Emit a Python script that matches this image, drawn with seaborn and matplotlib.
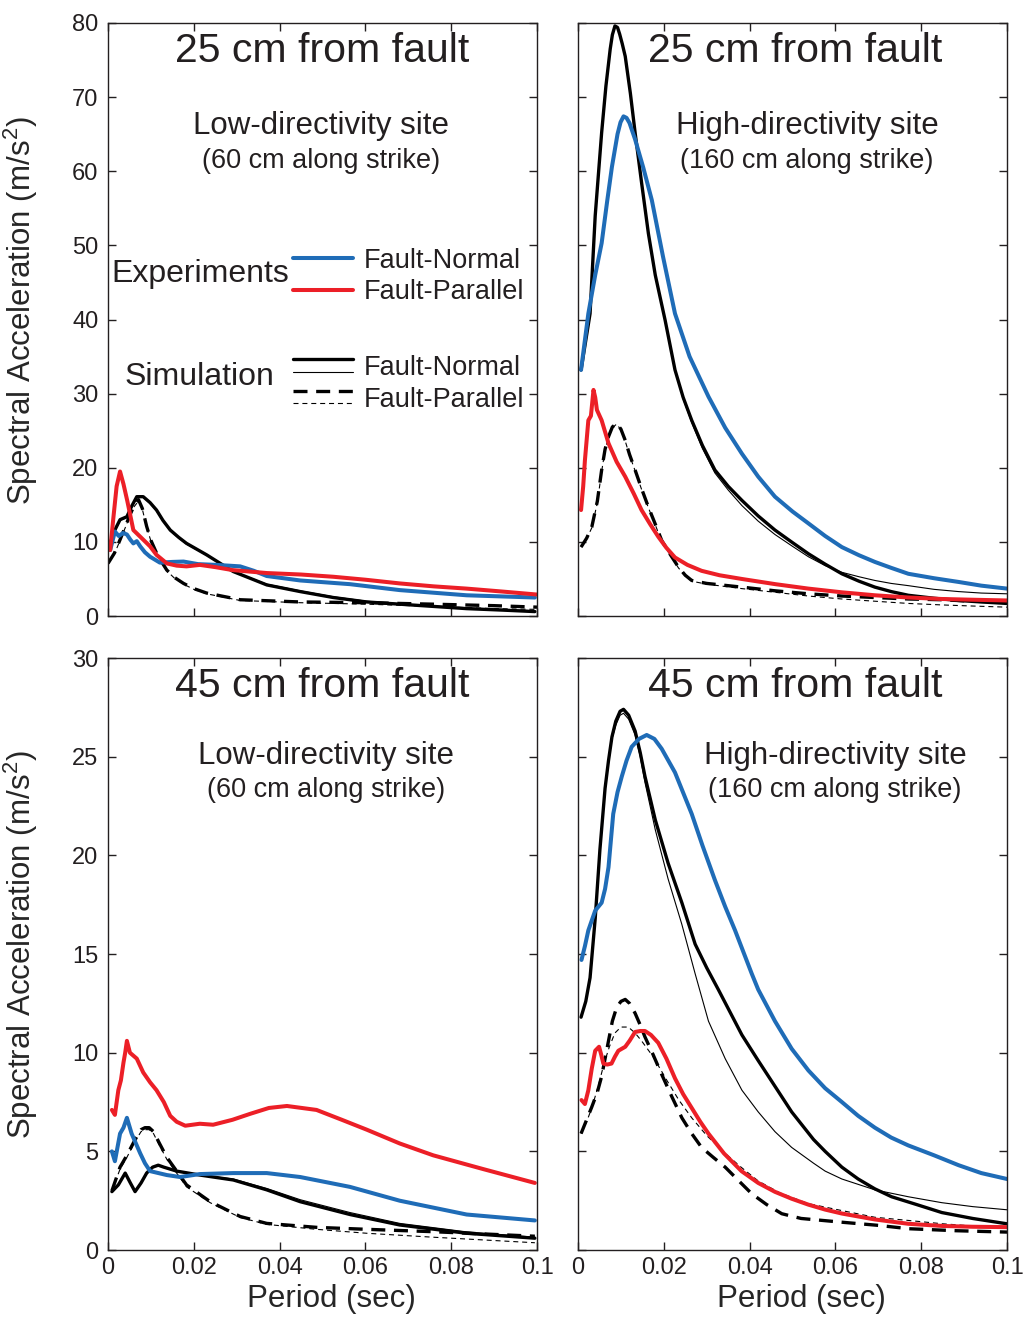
import matplotlib
matplotlib.use("Agg")
import matplotlib.pyplot as plt
import seaborn as sns
from matplotlib.lines import Line2D
from matplotlib.legend_handler import HandlerBase
from matplotlib.ticker import FuncFormatter, MultipleLocator

# ---------------- data (period in s, spectral acceleration in m/s^2) ----------------
# 25 cm from fault, low-directivity site
L25_EXP_FN_X = [0.0005, 0.0016, 0.0025, 0.0035, 0.0044, 0.0052, 0.0059, 0.0067, 0.0075, 0.0086, 0.0098,
                0.0121, 0.015, 0.0176, 0.021, 0.0253, 0.0308, 0.034, 0.037, 0.0448, 0.0564, 0.068, 0.0836, 0.0995]
L25_EXP_FN_Y = [8.9, 11.4, 10.8, 11.2, 11.0, 10.3, 9.8, 10.1, 9.4, 8.6, 8.0,
                7.2, 7.3, 7.35, 7.0, 6.9, 6.7, 6.1, 5.4, 4.8, 4.3, 3.5, 2.8, 2.5]
L25_EXP_FP_X = [0.0005, 0.0012, 0.002, 0.0028, 0.0036, 0.0045, 0.0059, 0.0075, 0.0098, 0.0113, 0.0137,
                0.016, 0.0183, 0.0214, 0.025, 0.029, 0.033, 0.037, 0.045, 0.0525, 0.06, 0.068, 0.076, 0.0836, 0.092, 0.1]
L25_EXP_FP_Y = [8.9, 13.0, 17.5, 19.5, 17.8, 15.5, 11.6, 10.7, 9.4, 8.25, 7.1,
                6.8, 6.7, 6.9, 6.6, 6.2, 6.0, 5.8, 5.6, 5.3, 4.9, 4.4, 4.0, 3.7, 3.3, 2.9]
L25_SIM_FN_X = [0.0, 0.0015, 0.0028, 0.0044, 0.0055, 0.0067, 0.0082, 0.0098, 0.0113, 0.0128, 0.0145,
                0.0165, 0.0183, 0.023, 0.0292, 0.037, 0.0448, 0.0525, 0.0603, 0.068, 0.0758, 0.0836, 0.092, 0.0995]
L25_SIM_FN_Y = [8.9, 11.5, 13.0, 13.4, 14.8, 16.1, 16.1, 15.3, 14.3, 12.9, 11.6,
                10.6, 9.8, 8.25, 6.0, 4.2, 3.3, 2.5, 1.9, 1.6, 1.3, 1.0, 0.8, 0.6]
L25_SIM_FN2_X = [0.0, 0.0015, 0.0028, 0.0044, 0.0055, 0.0067, 0.0082, 0.0098, 0.0113, 0.0128, 0.0145,
                 0.0165, 0.0183, 0.023, 0.0292, 0.037, 0.0448, 0.0525, 0.0603, 0.068, 0.0758, 0.0836, 0.092, 0.0995]
L25_SIM_FN2_Y = [8.9, 11.4, 12.9, 13.3, 14.7, 16.0, 16.0, 15.2, 14.2, 12.8, 11.5,
                 10.5, 9.7, 8.2, 6.0, 4.3, 3.4, 2.6, 2.0, 1.65, 1.35, 1.1, 0.9, 0.7]
L25_SIM_FP_X = [0.0, 0.0015, 0.0028, 0.004, 0.005, 0.006, 0.0071, 0.008, 0.009, 0.01, 0.0113, 0.0125,
                0.0137, 0.0155, 0.0176, 0.02, 0.023, 0.0308, 0.0448, 0.0603, 0.0758, 0.09, 0.1]
L25_SIM_FP_Y = [7.1, 8.5, 10.3, 12.0, 13.5, 14.8, 15.7, 14.5, 12.1, 10.2, 8.5, 7.3,
                6.2, 5.2, 4.4, 3.7, 3.1, 2.2, 1.9, 1.8, 1.6, 1.4, 1.2]
L25_SIM_FP2_X = [0.0, 0.0015, 0.0028, 0.004, 0.005, 0.006, 0.0071, 0.008, 0.009, 0.01, 0.0113, 0.0125,
                 0.0137, 0.0155, 0.0176, 0.02, 0.023, 0.0308, 0.0448, 0.0603, 0.0758, 0.09, 0.1]
L25_SIM_FP2_Y = [7.1, 8.4, 10.2, 11.9, 13.4, 14.7, 15.5, 14.4, 12.0, 10.1, 8.4, 7.2,
                 6.1, 5.1, 4.3, 3.6, 3.0, 2.1, 1.8, 1.6, 1.3, 1.0, 0.9]

# 25 cm from fault, high-directivity site
H25_EXP_FN_X = [0.0007, 0.0024, 0.004, 0.0055, 0.0068, 0.0079, 0.0092, 0.0099, 0.0106, 0.0113, 0.012,
                0.0133, 0.0152, 0.0172, 0.0198, 0.0226, 0.026, 0.0304, 0.0343, 0.0382, 0.042, 0.0459,
                0.05, 0.0537, 0.0576, 0.0615, 0.0655, 0.0692, 0.073, 0.077, 0.083, 0.0887, 0.094, 0.1]
H25_EXP_FN_Y = [33.2, 40.8, 46.0, 50.3, 56.0, 60.6, 65.0, 66.6, 67.4, 67.2, 66.5,
                64.3, 60.5, 56.1, 48.5, 40.8, 35.0, 29.6, 25.4, 21.9, 18.8, 16.1,
                14.1, 12.5, 10.8, 9.3, 8.2, 7.3, 6.5, 5.7, 5.1, 4.6, 4.1, 3.7]
H25_EXP_FP_X = [0.0007, 0.0012, 0.0016, 0.0024, 0.003, 0.0036, 0.004, 0.0044, 0.0055, 0.0071, 0.009,
                0.011, 0.013, 0.0148, 0.0168, 0.0187, 0.0206, 0.0226, 0.0255, 0.0288, 0.033, 0.0382,
                0.046, 0.0537, 0.0615, 0.0692, 0.077, 0.0848, 0.092, 0.1]
H25_EXP_FP_Y = [14.3, 17.5, 21.0, 26.4, 27.0, 30.5, 29.5, 27.8, 26.4, 23.3, 20.8,
                18.8, 16.5, 14.3, 12.4, 10.7, 9.2, 7.9, 6.9, 6.1, 5.5, 5.0,
                4.3, 3.7, 3.2, 2.8, 2.5, 2.3, 2.2, 2.1]
H25_SIM_FN_X = [0.0007, 0.0028, 0.004, 0.0055, 0.0065, 0.0075, 0.008, 0.0086, 0.0092, 0.0097, 0.0103,
                0.011, 0.0122, 0.0133, 0.0148, 0.0164, 0.018, 0.0203, 0.0226, 0.0245, 0.0265, 0.029,
                0.0319, 0.035, 0.0382, 0.042, 0.0459, 0.05, 0.0537, 0.0576, 0.0615, 0.0655, 0.0692,
                0.073, 0.077, 0.083, 0.0887, 0.094, 0.1]
H25_SIM_FN_Y = [33.2, 40.8, 54.0, 65.2, 71.5, 76.5, 78.4, 79.6, 79.4, 78.5, 77.2,
                75.5, 70.5, 65.2, 58.5, 51.6, 46.0, 39.9, 33.2, 29.5, 26.4, 23.0,
                19.7, 17.5, 15.6, 13.5, 11.6, 9.9, 8.4, 7.0, 5.7, 4.7, 3.9,
                3.3, 2.8, 2.4, 2.1, 1.9, 1.7]
H25_SIM_FN2_X = [0.0007, 0.0028, 0.004, 0.0055, 0.0065, 0.0075, 0.008, 0.0086, 0.0092, 0.0097, 0.0103,
                 0.011, 0.0122, 0.0133, 0.0148, 0.0164, 0.018, 0.0203, 0.0226, 0.0245, 0.0265, 0.029,
                 0.0319, 0.035, 0.0382, 0.042, 0.0459, 0.05, 0.0537, 0.0576, 0.0615, 0.0655, 0.0692,
                 0.073, 0.077, 0.083, 0.0887, 0.094, 0.1]
H25_SIM_FN2_Y = [33.2, 40.8, 54.0, 65.2, 71.5, 76.5, 78.4, 79.6, 79.4, 78.5, 77.2,
                 75.5, 70.5, 65.2, 58.5, 51.6, 46.0, 39.9, 33.2, 29.3, 26.1, 22.6,
                 19.3, 17.0, 14.9, 12.8, 11.0, 9.4, 8.0, 6.8, 5.9, 5.3, 4.8,
                 4.4, 4.1, 3.6, 3.3, 3.1, 3.0]
H25_SIM_FP_X = [0.0007, 0.002, 0.0032, 0.0045, 0.0055, 0.0063, 0.0071, 0.008, 0.009, 0.01, 0.011, 0.012,
                0.0133, 0.0148, 0.0164, 0.018, 0.0195, 0.0215, 0.0234, 0.025, 0.0265, 0.03, 0.0382,
                0.046, 0.0537, 0.0615, 0.0692, 0.077, 0.0848, 0.092, 0.1]
H25_SIM_FP_Y = [9.3, 10.5, 12.0, 15.5, 19.7, 22.5, 24.2, 25.5, 26.0, 25.2, 23.7, 21.8,
                19.7, 17.2, 14.7, 12.4, 10.2, 8.3, 6.6, 5.5, 4.8, 4.4, 3.9,
                3.4, 3.0, 2.7, 2.5, 2.3, 2.2, 2.0, 1.9]
H25_SIM_FP2_X = [0.0007, 0.002, 0.0032, 0.0045, 0.0055, 0.0063, 0.0071, 0.008, 0.009, 0.01, 0.011, 0.012,
                 0.0133, 0.0148, 0.0164, 0.018, 0.0195, 0.0215, 0.0234, 0.025, 0.0265, 0.03, 0.0382,
                 0.046, 0.0537, 0.0615, 0.0692, 0.077, 0.0848, 0.092, 0.1]
H25_SIM_FP2_Y = [9.3, 10.4, 11.9, 15.3, 19.5, 22.4, 24.1, 25.4, 25.9, 25.1, 23.6, 21.7,
                 19.6, 17.1, 14.6, 12.3, 10.1, 8.2, 6.5, 5.4, 4.7, 4.3, 3.7,
                 3.2, 2.7, 2.3, 2.0, 1.7, 1.5, 1.35, 1.2]

# 45 cm from fault, low-directivity site
L45_EXP_FN_X = [0.0009, 0.0016, 0.0028, 0.0036, 0.0044, 0.0055, 0.0065, 0.0075, 0.0086, 0.0098,
                0.0137, 0.0168, 0.0214, 0.0292, 0.037, 0.0448, 0.0564, 0.068, 0.0836, 0.0995]
L45_EXP_FN_Y = [5.0, 4.5, 5.9, 6.2, 6.7, 5.9, 5.4, 4.9, 4.4, 4.0,
                3.8, 3.7, 3.85, 3.9, 3.9, 3.7, 3.2, 2.5, 1.8, 1.5]
L45_EXP_FP_X = [0.0009, 0.0016, 0.0024, 0.003, 0.0036, 0.004, 0.0044, 0.0051, 0.0067, 0.0082, 0.0098,
                0.0113, 0.013, 0.0145, 0.016, 0.018, 0.0214, 0.0245, 0.029, 0.0331, 0.0375, 0.0417,
                0.0486, 0.0545, 0.0603, 0.068, 0.0758, 0.0875, 0.0995]
L45_EXP_FP_Y = [7.1, 6.85, 8.1, 8.6, 9.5, 10.0, 10.6, 10.0, 9.7, 9.0, 8.5,
                8.1, 7.5, 6.8, 6.5, 6.3, 6.4, 6.35, 6.6, 6.9, 7.2, 7.3,
                7.1, 6.6, 6.1, 5.4, 4.8, 4.1, 3.4]
L45_SIM_FN_X = [0.0009, 0.0024, 0.004, 0.0052, 0.0063, 0.0077, 0.009, 0.0104, 0.0117, 0.013,
                0.016, 0.0214, 0.0292, 0.037, 0.0448, 0.0564, 0.068, 0.0836, 0.0995]
L45_SIM_FN_Y = [2.96, 3.3, 3.9, 3.4, 2.96, 3.4, 3.9, 4.2, 4.3, 4.2,
                4.0, 3.8, 3.55, 3.05, 2.45, 1.8, 1.27, 0.85, 0.6]
L45_SIM_FN2_X = [0.0009, 0.0024, 0.004, 0.0052, 0.0063, 0.0077, 0.009, 0.0104, 0.0117, 0.013,
                 0.016, 0.0214, 0.0292, 0.037, 0.0448, 0.0564, 0.068, 0.0836, 0.0995]
L45_SIM_FN2_Y = [2.96, 3.3, 3.9, 3.4, 2.96, 3.4, 3.9, 4.2, 4.3, 4.2,
                 4.0, 3.8, 3.6, 3.12, 2.55, 1.9, 1.35, 0.92, 0.65]
L45_SIM_FP_X = [0.0009, 0.0028, 0.0044, 0.0056, 0.0067, 0.0077, 0.0086, 0.0096, 0.0106, 0.012,
                0.0137, 0.016, 0.0183, 0.0238, 0.0308, 0.037, 0.0486, 0.0603, 0.0758, 0.0995]
L45_SIM_FP_Y = [3.0, 4.2, 4.8, 5.3, 5.75, 6.1, 6.2, 6.2, 6.0, 5.4,
                4.7, 4.0, 3.3, 2.45, 1.7, 1.35, 1.15, 1.05, 0.93, 0.7]
L45_SIM_FP2_X = [0.0009, 0.0028, 0.0044, 0.0056, 0.0067, 0.0077, 0.0086, 0.0096, 0.0106, 0.012,
                 0.0137, 0.016, 0.0183, 0.0238, 0.0308, 0.037, 0.0486, 0.0603, 0.0758, 0.0995]
L45_SIM_FP2_Y = [3.0, 4.1, 4.7, 5.2, 5.65, 6.0, 6.1, 6.1, 5.9, 5.3,
                 4.6, 3.9, 3.2, 2.4, 1.65, 1.3, 1.05, 0.85, 0.65, 0.37]

# 45 cm from fault, high-directivity site
H45_EXP_FN_X = [0.0008, 0.0016, 0.0024, 0.004, 0.0055, 0.0063, 0.0071, 0.0082, 0.0092, 0.0102, 0.0113,
                0.0125, 0.0142, 0.016, 0.0178, 0.0195, 0.0226, 0.0265, 0.029, 0.0319, 0.0343, 0.0366,
                0.0405, 0.042, 0.0459, 0.0498, 0.0537, 0.0576, 0.0615, 0.0653, 0.0692, 0.073, 0.077,
                0.083, 0.0887, 0.094, 0.1]
H45_EXP_FN_Y = [14.7, 15.4, 16.2, 17.2, 17.6, 18.3, 19.4, 22.1, 23.2, 24.0, 24.8,
                25.5, 25.9, 26.1, 25.9, 25.4, 24.2, 22.1, 20.5, 18.75, 17.4, 16.2,
                14.0, 13.2, 11.6, 10.2, 9.1, 8.2, 7.5, 6.8, 6.2, 5.7, 5.3,
                4.8, 4.3, 3.9, 3.6]
H45_EXP_FP_X = [0.0008, 0.0016, 0.0024, 0.0032, 0.004, 0.0049, 0.0054, 0.0059, 0.0068, 0.0078, 0.0086,
                0.0094, 0.011, 0.012, 0.0133, 0.0145, 0.0156, 0.017, 0.0187, 0.0206, 0.0226, 0.0245,
                0.0265, 0.0285, 0.0304, 0.034, 0.0381, 0.042, 0.0459, 0.0498, 0.0537, 0.0576, 0.0615,
                0.0692, 0.077, 0.085, 0.092, 0.1]
H45_EXP_FP_Y = [7.6, 7.4, 8.1, 9.2, 10.1, 10.3, 9.9, 9.45, 9.4, 9.45, 9.8,
                10.1, 10.3, 10.6, 11.05, 11.1, 11.1, 10.9, 10.5, 9.7, 8.7, 7.9,
                7.2, 6.5, 5.9, 4.9, 4.0, 3.4, 2.95, 2.6, 2.3, 2.05, 1.85,
                1.55, 1.33, 1.22, 1.18, 1.16]
H45_SIM_FN_X = [0.0007, 0.0018, 0.0028, 0.004, 0.0051, 0.0063, 0.0071, 0.0079, 0.0088, 0.0098, 0.0106,
                0.0118, 0.0133, 0.0145, 0.0156, 0.018, 0.021, 0.0242, 0.0273, 0.03, 0.0327, 0.0382,
                0.042, 0.0444, 0.0498, 0.0549, 0.0576, 0.0615, 0.0653, 0.0692, 0.0731, 0.079, 0.0848,
                0.092, 0.1]
H45_SIM_FN_Y = [11.8, 12.6, 13.8, 16.8, 20.3, 23.4, 24.8, 26.0, 26.8, 27.3, 27.4,
                27.1, 26.3, 25.2, 24.0, 21.8, 19.6, 17.6, 15.5, 14.3, 13.2, 10.9,
                9.6, 8.8, 7.0, 5.6, 5.0, 4.2, 3.6, 3.1, 2.7, 2.3, 1.9,
                1.6, 1.33]
H45_SIM_FN2_X = [0.0007, 0.0018, 0.0028, 0.004, 0.0051, 0.0063, 0.0071, 0.0079, 0.0088, 0.0098, 0.0106,
                 0.0118, 0.0133, 0.0145, 0.0156, 0.018, 0.021, 0.0242, 0.0273, 0.0304, 0.0343, 0.0382,
                 0.042, 0.0459, 0.0498, 0.0549, 0.0576, 0.0615, 0.0692, 0.077, 0.0848, 0.092, 0.1]
H45_SIM_FN2_Y = [11.8, 12.6, 13.8, 16.8, 20.3, 23.3, 24.7, 25.9, 26.6, 27.1, 27.2,
                 26.9, 26.1, 25.0, 23.7, 21.3, 18.8, 16.5, 14.0, 11.6, 9.7, 8.1,
                 7.0, 6.0, 5.2, 4.4, 4.0, 3.6, 3.05, 2.7, 2.4, 2.2, 2.04]
H45_SIM_FP_X = [0.0007, 0.002, 0.0032, 0.0045, 0.0055, 0.0063, 0.0071, 0.008, 0.009, 0.01, 0.011, 0.012,
                0.0133, 0.0145, 0.0156, 0.0175, 0.0195, 0.0218, 0.0242, 0.0265, 0.0288, 0.0315, 0.0343,
                0.0375, 0.0405, 0.044, 0.0475, 0.052, 0.0615, 0.07, 0.0771, 0.088, 0.1]
H45_SIM_FP_Y = [5.9, 6.6, 7.25, 8.0, 8.8, 9.7, 10.6, 11.6, 12.3, 12.6, 12.7, 12.5,
                12.0, 11.4, 10.8, 9.9, 8.9, 7.8, 6.7, 5.9, 5.2, 4.7, 4.2,
                3.5, 2.85, 2.3, 1.84, 1.6, 1.41, 1.25, 1.08, 0.98, 0.91]
H45_SIM_FP2_X = [0.0007, 0.002, 0.0032, 0.0047, 0.006, 0.0073, 0.0086, 0.01, 0.0117, 0.0133, 0.0148,
                 0.0175, 0.0207, 0.0235, 0.0265, 0.03, 0.0343, 0.038, 0.042, 0.047, 0.0537, 0.0615,
                 0.0692, 0.077, 0.085, 0.092, 0.1]
H45_SIM_FP2_Y = [5.9, 6.5, 7.2, 8.3, 9.4, 10.3, 11.0, 11.3, 11.3, 11.0, 10.6,
                 9.8, 8.6, 7.6, 6.7, 5.8, 4.9, 4.2, 3.5, 2.9, 2.35, 2.0,
                 1.66, 1.5, 1.33, 1.22, 1.16]

DIST_LABELS = ["25 cm from fault", "25 cm from fault", "45 cm from fault", "45 cm from fault"]
SITE_LABELS = ["Low-directivity site", "High-directivity site", "Low-directivity site", "High-directivity site"]
STRIKE_LABELS = ["(60 cm along strike)", "(160 cm along strike)", "(60 cm along strike)", "(160 cm along strike)"]
COMP_LABELS = ["Fault-Normal", "Fault-Parallel"]
GROUP_LABELS = ["Experiments", "Simulation"]
X_TICKS = [0, 0.02, 0.04, 0.06, 0.08, 0.1]

# ---------------- styles ----------------
BLUE = "#1f6cb7"
RED = "#ec1f27"
INK = "#231f20"
LW_EXP = 2.9
LW_THICK = 2.4
LW_THIN = 0.8
DASH_THICK = (0, (4.2, 2.6))
DASH_THIN = (0, (4.5, 3.5))

sns.set_theme(style="ticks")
plt.rcParams["font.family"] = ["Liberation Sans", "DejaVu Sans"]
plt.rcParams["mathtext.fontset"] = "custom"
plt.rcParams["mathtext.rm"] = "Liberation Sans"
plt.rcParams["axes.edgecolor"] = INK
plt.rcParams["axes.linewidth"] = 1.0
plt.rcParams["text.color"] = INK
plt.rcParams["lines.solid_joinstyle"] = "round"
plt.rcParams["lines.dash_joinstyle"] = "round"

fig = plt.figure(figsize=(10.26, 13.2), dpi=100)
lefts = [0.1053, 0.5634]
bottoms = [0.5333, 0.0530]
heights = [0.9826 - 0.5333, 0.5015 - 0.0530]
width = 0.5234 - 0.1053

panels = [
    (L25_EXP_FN_X, L25_EXP_FN_Y, L25_EXP_FP_X, L25_EXP_FP_Y, L25_SIM_FN_X, L25_SIM_FN_Y, L25_SIM_FN2_X, L25_SIM_FN2_Y,
     L25_SIM_FP_X, L25_SIM_FP_Y, L25_SIM_FP2_X, L25_SIM_FP2_Y),
    (H25_EXP_FN_X, H25_EXP_FN_Y, H25_EXP_FP_X, H25_EXP_FP_Y, H25_SIM_FN_X, H25_SIM_FN_Y, H25_SIM_FN2_X, H25_SIM_FN2_Y,
     H25_SIM_FP_X, H25_SIM_FP_Y, H25_SIM_FP2_X, H25_SIM_FP2_Y),
    (L45_EXP_FN_X, L45_EXP_FN_Y, L45_EXP_FP_X, L45_EXP_FP_Y, L45_SIM_FN_X, L45_SIM_FN_Y, L45_SIM_FN2_X, L45_SIM_FN2_Y,
     L45_SIM_FP_X, L45_SIM_FP_Y, L45_SIM_FP2_X, L45_SIM_FP2_Y),
    (H45_EXP_FN_X, H45_EXP_FN_Y, H45_EXP_FP_X, H45_EXP_FP_Y, H45_SIM_FN_X, H45_SIM_FN_Y, H45_SIM_FN2_X, H45_SIM_FN2_Y,
     H45_SIM_FP_X, H45_SIM_FP_Y, H45_SIM_FP2_X, H45_SIM_FP2_Y),
]

# where the site labels sit (axes fraction) - the right panels are shifted a bit
site_pos = [(0.497, 0.826, 0.767), (0.534, 0.826, 0.767), (0.508, 0.834, 0.777), (0.599, 0.834, 0.777)]


class HandlerStacked(HandlerBase):
    # two lines on top of each other: thick one above, thin one below
    def create_artists(self, legend, orig_handle, xdescent, ydescent, width, height, fontsize, trans):
        out = []
        for h, frac in zip(orig_handle, (0.85, 0.2)):
            ln = Line2D([-xdescent, width - xdescent], [height * frac - ydescent] * 2)
            ln.update_from(h)
            ln.set_transform(trans)
            out.append(ln)
        return out


axes = []
for i, d in enumerate(panels):
    row, col = divmod(i, 2)
    ax = fig.add_axes([lefts[col], bottoms[row], width, heights[row]])
    axes.append(ax)
    (efx, efy, epx, epy, sfx, sfy, sf2x, sf2y, spx, spy, sp2x, sp2y) = d

    kw = dict(ax=ax, estimator=None, errorbar=None, legend=False)
    sns.lineplot(x=sp2x, y=sp2y, color="black", linewidth=LW_THIN, linestyle=DASH_THIN, **kw)
    sns.lineplot(x=spx, y=spy, color="black", linewidth=LW_THICK, linestyle=DASH_THICK, **kw)
    sns.lineplot(x=sfx, y=sfy, color="black", linewidth=LW_THICK, **kw)
    sns.lineplot(x=sf2x, y=sf2y, color="black", linewidth=LW_THIN, **kw)
    sns.lineplot(x=efx, y=efy, color=BLUE, linewidth=LW_EXP, **kw)
    sns.lineplot(x=epx, y=epy, color=RED, linewidth=LW_EXP, **kw)

    ax.set_xlim(0, 0.1)
    if row == 0:
        ax.set_ylim(0, 80)
        ax.yaxis.set_major_locator(MultipleLocator(10))
    else:
        ax.set_ylim(0, 30)
        ax.yaxis.set_major_locator(MultipleLocator(5))
    ax.set_xticks(X_TICKS)
    ax.xaxis.set_major_formatter(FuncFormatter(lambda v, _: f"{v:g}"))
    ax.tick_params(direction="in", length=6, width=1.0, top=True, right=True,
                   labelsize=17, colors=INK, pad=5)
    ax.tick_params(axis="y", pad=7)
    if row == 0:
        ax.tick_params(labelbottom=False)
    if col == 1:
        ax.tick_params(labelleft=False)
    for s in ax.spines.values():
        s.set_visible(True)
        s.set_color(INK)

    ax.set_xlabel("")
    ax.set_ylabel("")
    if row == 1:
        ax.set_xlabel("Period (sec)", fontsize=22.5)
        ax.xaxis.set_label_coords(0.52, -0.058)
    if col == 0:
        ax.set_ylabel("Spectral Acceleration (m/s$^2$)", fontsize=22.5)
        ax.yaxis.set_label_coords(-0.158, 0.515)

    tx = 0.499 if col == 0 else 0.506
    ax.text(tx, 0.953, DIST_LABELS[i], transform=ax.transAxes, ha="center", va="center", fontsize=29.5)
    sx, sy1, sy2 = site_pos[i]
    ax.text(sx, sy1, SITE_LABELS[i], transform=ax.transAxes, ha="center", va="center", fontsize=22.5)
    ax.text(sx, sy2, STRIKE_LABELS[i], transform=ax.transAxes, ha="center", va="center", fontsize=19.5)

# legend, drawn in the top-left panel
ax = axes[0]
exp_handles = [Line2D([], [], color=BLUE, lw=LW_EXP), Line2D([], [], color=RED, lw=LW_EXP)]
sim_handles = [
    (Line2D([], [], color="black", lw=LW_THICK), Line2D([], [], color="black", lw=LW_THIN)),
    (Line2D([], [], color="black", lw=LW_THICK, ls=DASH_THICK), Line2D([], [], color="black", lw=LW_THIN, ls=DASH_THIN)),
]
leg_kw = dict(loc="center left", frameon=False, fontsize=19.5, handlelength=2.2, handletextpad=0.4,
              labelspacing=0.2, borderpad=0, borderaxespad=0, labelcolor=INK)
leg1 = ax.legend(exp_handles, COMP_LABELS, bbox_to_anchor=(0.431, 0.5725), **leg_kw)
ax.add_artist(leg1)
ax.legend(sim_handles, COMP_LABELS, bbox_to_anchor=(0.431, 0.391),
          handler_map={tuple: HandlerStacked()}, **leg_kw)
ax.text(0.214, 0.577, GROUP_LABELS[0], transform=ax.transAxes, ha="center", va="center", fontsize=23)
ax.text(0.212, 0.403, GROUP_LABELS[1], transform=ax.transAxes, ha="center", va="center", fontsize=23)

fig.savefig("out.png", dpi=100)
